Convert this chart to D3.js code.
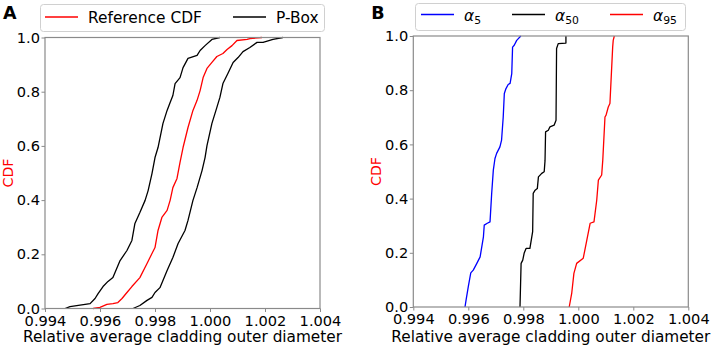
<!DOCTYPE html>
<html>
<head>
<meta charset="utf-8">
<script src="https://cdn.jsdelivr.net/npm/d3@7"></script>
<style>
  html, body { margin: 0; padding: 0; background: #fff; }
  svg { display: block; font-family: "DejaVu Sans", sans-serif; }
</style>
</head>
<body>
<svg id="chart" width="713" height="348"></svg>
<script>
// ---------- DATA ----------
const xTicks = [0.994, 0.996, 0.998, 1.000, 1.002, 1.004];
const yTicks = [0.0, 0.2, 0.4, 0.6, 0.8, 1.0];

// Panel A: reference CDF and P-box bounds  [value, CDF]
const pboxLower = [[0.99473,0],[0.99491,0.007],[0.99564,0.018],[0.99582,0.037],[0.99593,0.055],[0.99611,0.081],[0.99629,0.100],[0.99647,0.114],[0.99673,0.177],[0.99698,0.214],[0.99716,0.251],[0.99727,0.314],[0.99745,0.354],[0.99764,0.399],[0.99775,0.435],[0.99789,0.498],[0.99800,0.557],[0.99811,0.594],[0.99829,0.683],[0.99844,0.731],[0.99855,0.760],[0.99865,0.786],[0.99873,0.830],[0.99891,0.852],[0.99902,0.889],[0.99920,0.923],[0.99953,0.934],[0.99964,0.952],[0.99982,0.970],[1.00007,0.993],[1.00036,1.000]];
const referenceCdf = [[0.99575,0],[0.99600,0.004],[0.99625,0.015],[0.99647,0.018],[0.99665,0.022],[0.99680,0.037],[0.99698,0.059],[0.99716,0.081],[0.99745,0.114],[0.99771,0.166],[0.99789,0.203],[0.99800,0.225],[0.99811,0.288],[0.99825,0.336],[0.99844,0.362],[0.99855,0.399],[0.99865,0.446],[0.99880,0.480],[0.99891,0.539],[0.99902,0.594],[0.99920,0.668],[0.99938,0.731],[0.99953,0.768],[0.99964,0.804],[0.99975,0.852],[0.99989,0.886],[1.00007,0.908],[1.00025,0.930],[1.00047,0.941],[1.00062,0.956],[1.00080,0.970],[1.00098,0.989],[1.00135,0.993],[1.00145,0.996],[1.00189,1.000]];
const pboxUpper = [[0.99720,0],[0.99745,0.011],[0.99771,0.030],[0.99789,0.041],[0.99800,0.059],[0.99818,0.077],[0.99844,0.140],[0.99865,0.188],[0.99884,0.240],[0.99909,0.288],[0.99920,0.325],[0.99938,0.399],[0.99953,0.446],[0.99971,0.509],[0.99982,0.557],[0.99989,0.601],[1.00007,0.683],[1.00025,0.742],[1.00036,0.779],[1.00047,0.830],[1.00065,0.867],[1.00084,0.908],[1.00102,0.926],[1.00120,0.948],[1.00145,0.963],[1.00171,0.982],[1.00193,0.982],[1.00229,0.993],[1.00265,1.000]];

// Panel B: quantile CDFs  [value, CDF]
const alpha5 = [[0.99588,0],[0.99592,0.026],[0.99600,0.075],[0.99609,0.126],[0.99618,0.136],[0.99631,0.161],[0.99643,0.185],[0.99655,0.259],[0.99658,0.302],[0.99669,0.309],[0.99679,0.314],[0.99685,0.419],[0.99691,0.505],[0.99697,0.548],[0.99703,0.567],[0.99715,0.591],[0.99721,0.616],[0.99727,0.701],[0.99731,0.788],[0.99737,0.806],[0.99745,0.821],[0.99752,0.825],[0.99758,0.861],[0.99761,0.959],[0.99767,0.966],[0.99776,0.984],[0.99791,1.000]];
const alpha50 = [[0.99788,0],[0.99792,0.161],[0.99798,0.173],[0.99803,0.198],[0.99810,0.216],[0.99824,0.216],[0.99834,0.278],[0.99836,0.419],[0.99843,0.431],[0.99851,0.437],[0.99855,0.480],[0.99867,0.493],[0.99876,0.499],[0.99879,0.540],[0.99881,0.646],[0.99891,0.652],[0.99897,0.665],[0.99912,0.671],[0.99919,0.689],[0.99921,0.954],[0.99927,0.972],[0.99955,0.974],[0.99955,1.000]];
const alpha95 = [[0.99967,0],[0.99976,0.050],[0.99984,0.124],[0.99994,0.161],[1.00018,0.180],[1.00031,0.247],[1.00043,0.309],[1.00057,0.314],[1.00067,0.394],[1.00073,0.468],[1.00085,0.487],[1.00089,0.542],[1.00097,0.701],[1.00101,0.708],[1.00109,0.738],[1.00115,0.751],[1.00125,0.959],[1.00127,0.984],[1.00131,1.000]];

const xLabel = "Relative average cladding outer diameter";
const yLabel = "CDF";

// ---------- DRAWING ----------
const svg = d3.select("#chart");
const spineColor = "#8a8a8a";

function panel(box, letter, series) {
  const x = d3.scaleLinear().domain([0.994, 1.004]).range([box.left, box.right]);
  const y = d3.scaleLinear().domain([0, 1]).range([box.bottom, box.top]);
  const g = svg.append("g");

  // axes
  const xa = g.append("g").attr("transform", `translate(0,${box.bottom})`)
    .call(d3.axisBottom(x).tickValues(xTicks).tickFormat(d3.format(".3f")).tickSize(3.5).tickPadding(3.5).tickSizeOuter(0));
  const ya = g.append("g").attr("transform", `translate(${box.left},0)`)
    .call(d3.axisLeft(y).tickValues(yTicks).tickFormat(d3.format(".1f")).tickSize(3.5).tickPadding(1.5).tickSizeOuter(0));
  [xa, ya].forEach(a => {
    a.select(".domain").remove();
    a.selectAll(".tick line").attr("stroke", spineColor).attr("stroke-width", 1);
    a.selectAll(".tick text").attr("fill", "#000").style("font-size", "14.6px").style("font-family", "DejaVu Sans");
  });

  // curves
  const line = d3.line().x(d => x(d[0])).y(d => y(d[1]));
  series.forEach(s => {
    g.append("path").datum(s.data).attr("d", line)
      .attr("fill", "none").attr("stroke", s.color).attr("stroke-width", 1.3)
      .attr("stroke-linejoin", "round");
  });

  // spines
  g.append("rect").attr("x", box.left).attr("y", box.top)
    .attr("width", box.right - box.left).attr("height", box.bottom - box.top)
    .attr("fill", "none").attr("stroke", spineColor).attr("stroke-width", 1.2);

  // labels
  g.append("text").attr("x", (box.left + box.right) / 2).attr("y", 341.5)
    .attr("text-anchor", "middle").style("font-size", "15.3px").text(xLabel);
  g.append("text").attr("transform", `translate(${box.left - 32},${(box.top + box.bottom) / 2}) rotate(-90)`)
    .attr("text-anchor", "middle").attr("fill", "#ff0000").style("font-size", "14.2px").text(yLabel);
  g.append("text").attr("x", box.left - 42).attr("y", 18.5)
    .style("font-size", "17.5px").style("font-weight", "bold").text(letter);
  return g;
}

function legend(g, box, items) {
  g.append("rect").attr("x", box.x).attr("y", box.y).attr("width", box.w).attr("height", box.h)
    .attr("rx", 3).attr("fill", "#fff").attr("fill-opacity", 0.8)
    .attr("stroke", "#d0d0d0").attr("stroke-width", 1);
  items.forEach(it => {
    g.append("line").attr("x1", it.x).attr("x2", it.x + 33).attr("y1", box.lineY).attr("y2", box.lineY)
      .attr("stroke", it.color).attr("stroke-width", 1.3);
    const t = g.append("text").attr("x", it.x + 43).attr("y", box.textY).style("font-size", "15.4px");
    if (it.sub) {
      t.append("tspan").style("font-style", "italic").text(it.label);
      t.append("tspan").attr("dy", 3).style("font-size", "10.8px").text(it.sub);
    } else {
      t.text(it.label);
    }
  });
}

const gA = panel({left: 45, right: 320, top: 37.5, bottom: 308.5}, "A", [
  {data: pboxLower, color: "#000"},
  {data: referenceCdf, color: "#ff0000"},
  {data: pboxUpper, color: "#000"}
]);
legend(gA, {x: 40.5, y: 4.5, w: 284, h: 27, lineY: 17, textY: 23}, [
  {x: 45, color: "#ff0000", label: "Reference CDF"},
  {x: 233, color: "#000", label: "P-Box"}
]);

const gB = panel({left: 413.3, right: 688.3, top: 36, bottom: 307}, "B", [
  {data: alpha5, color: "#0000ff"},
  {data: alpha50, color: "#000"},
  {data: alpha95, color: "#ff0000"}
]);
legend(gB, {x: 415.5, y: 3.5, w: 270, h: 27, lineY: 14.5, textY: 20.5}, [
  {x: 421, color: "#0000ff", label: "α", sub: "5"},
  {x: 512, color: "#000", label: "α", sub: "50"},
  {x: 610, color: "#ff0000", label: "α", sub: "95"}
]);
</script>
</body>
</html>
